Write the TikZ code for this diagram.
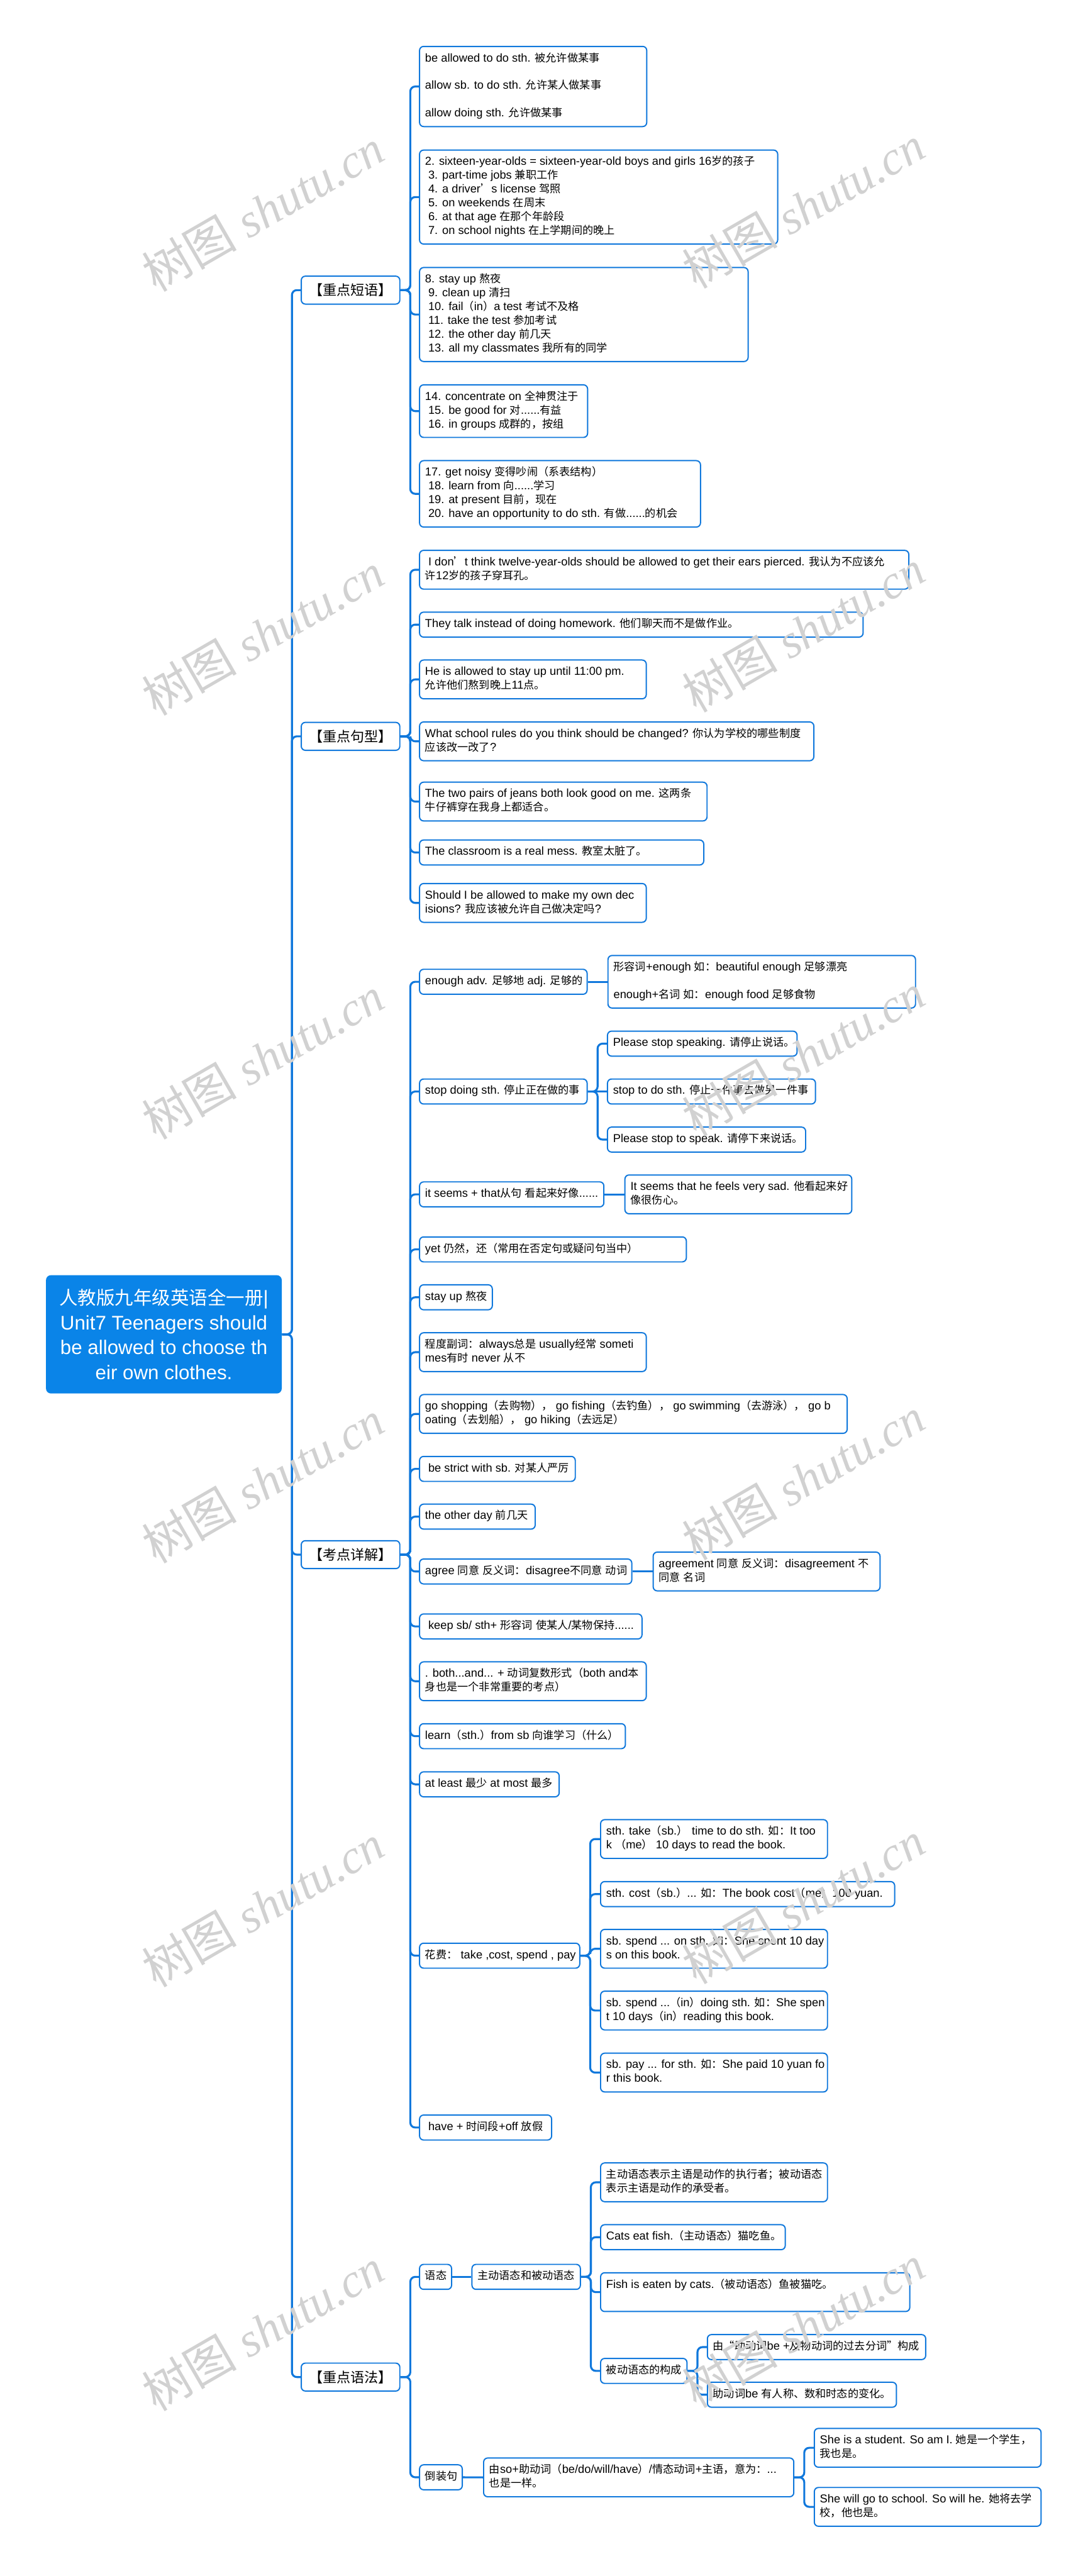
\documentclass[tikz,border=0pt]{standalone}
\usepackage{fontspec}
\setmainfont{Liberation Sans}
\newfontfamily\latf{Liberation Sans}
\newfontfamily\cjkf{Noto Sans CJK SC}[Scale=0.94]
\newfontfamily\wmlat{Liberation Serif}
\newfontfamily\wmcjk{Noto Sans CJK SC}
\usetikzlibrary{calc,positioning}
\definecolor{lineblue}{RGB}{16,120,220}
\definecolor{rootblue}{RGB}{10,132,232}
% Chinese characters switch to the CJK font by themselves
\chardef\cjkcls=7
\newcount\cjkc
\cjkc="2E80 \loop\XeTeXcharclass\cjkc=\cjkcls \advance\cjkc 1 \ifnum\cjkc<"A000 \repeat
\cjkc="FF00 \loop\XeTeXcharclass\cjkc=\cjkcls \advance\cjkc 1 \ifnum\cjkc<"FFF0 \repeat
\XeTeXcharclass"2018=\cjkcls \XeTeXcharclass"2019=\cjkcls
\XeTeXcharclass"201C=\cjkcls \XeTeXcharclass"201D=\cjkcls
\XeTeXinterchartokenstate=1
\XeTeXinterchartoks 0 \cjkcls = {\cjkf}
\XeTeXinterchartoks 4095 \cjkcls = {\cjkf}
\XeTeXinterchartoks \cjkcls 0 = {\latf}
\XeTeXinterchartoks \cjkcls 4095 = {\latf}
\newcommand{\lf}[2]{\makebox[#1pt][l]{\begin{tabular}{@{}l@{}}#2\end{tabular}}}
\newcommand{\wmf}{\XeTeXinterchartokenstate=0 \fontsize{29}{30}\selectfont\wmlat\itshape}
\tikzset{
  rootbox/.style={fill=rootblue,rounded corners=3pt,text=white,align=center,inner sep=0pt,minimum width=143.5pt,minimum height=72pt,font=\fontsize{12}{15.1}\selectfont},
  leaf/.style={draw=lineblue,line width=0.75pt,fill=white,rounded corners=2.5pt,anchor=west,inner sep=3.4pt,font=\fontsize{7}{8.4}\selectfont},
  cat/.style={leaf,font=\fontsize{9}{10.8}\selectfont,minimum width=60pt,minimum height=17pt},
  branch/.style={lineblue,line width=1.2pt,rounded corners=3pt},
  wmark/.style={anchor=base west,rotate=30,text=black!18,font=\wmf},
}
\begin{document}
\begin{tikzpicture}[x=1pt,y=-1pt]
  \fill[white] (0,0) rectangle (662,1568);
  % root and the four topics
  \node[rootbox] (root) at (99.75,812.2) {人教版九年级英语全一册|\\Unit7 Teenagers should\\be allowed to choose th\\eir own clothes.};
  \node[cat] (pd) at (183,176.6) {【重点短语】};
  \node[cat] (jx) at (183,448.2) {【重点句型】};
  \node[cat] (kd) at (183,946.3) {【考点详解】};
  \node[cat] (yf) at (183,1446.9) {【重点语法】};
  % phrases
  \node[leaf] (p1) at (255,52.65) {\lf{131.5}{be allowed to do sth. 被允许做某事\\[8.4pt]allow sb. to do sth. 允许某人做某事\\[8.4pt]allow doing sth. 允许做某事}};
  \node[leaf] (p2) at (255,119.95) {\lf{211.2}{2. sixteen-year-olds = sixteen-year-old boys and girls 16岁的孩子\\\ 3. part-time jobs 兼职工作\\\ 4. a driver’s license 驾照\\\ 5. on weekends 在周末\\\ 6. at that age 在那个年龄段\\\ 7. on school nights 在上学期间的晚上}};
  \node[leaf] (p3) at (255,191.45) {\lf{193.2}{8. stay up 熬夜\\\ 9. clean up 清扫\\\ 10. fail（in）a test 考试不及格\\\ 11. take the test 参加考试\\\ 12. the other day 前几天\\\ 13. all my classmates 我所有的同学}};
  \node[leaf] (p4) at (255,250.25) {\lf{95.5}{14. concentrate on 全神贯注于\\\ 15. be good for 对......有益\\\ 16. in groups 成群的，按组}};
  \node[leaf] (p5) at (255,300.6) {\lf{164.2}{17. get noisy 变得吵闹（系表结构）\\\ 18. learn from 向......学习\\\ 19. at present 目前，现在\\\ 20. have an opportunity to do sth. 有做......的机会}};
  % sentences
  \node[leaf] (s1) at (255,346.8) {\lf{291}{\ I don’t think twelve-year-olds should be allowed to get their ears pierced. 我认为不应该允\\许12岁的孩子穿耳孔。}};
  \node[leaf] (s2) at (255,380.2) {\lf{263.2}{They talk instead of doing homework. 他们聊天而不是做作业。}};
  \node[leaf] (s3) at (255,413.55) {\lf{131.2}{He is allowed to stay up until 11:00 pm.\\允许他们熬到晚上11点。}};
  \node[leaf] (s4) at (255,451.25) {\lf{233.2}{What school rules do you think should be changed? 你认为学校的哪些制度\\应该改一改了?}};
  \node[leaf] (s5) at (255,487.9) {\lf{168.2}{The two pairs of jeans both look good on me. 这两条\\牛仔裤穿在我身上都适合。}};
  \node[leaf] (s6) at (255,518.9) {\lf{166.2}{The classroom is a real mess. 教室太脏了。}};
  \node[leaf] (s7) at (255,549.6) {\lf{131.2}{Should I be allowed to make my own dec\\isions? 我应该被允许自己做决定吗?}};
  % key points
  \node[leaf] (k1) at (255,597.6) {\lf{95.2}{enough adv. 足够地 adj. 足够的}};
  \node[leaf] (k1a) at (369.7,597.6) {\lf{180.4}{形容词+enough 如：beautiful enough 足够漂亮\\[8.4pt]enough+名词 如：enough food 足够食物}};
  \node[leaf] (k2) at (255,664.4) {\lf{95.2}{stop doing sth. 停止正在做的事}};
  \node[leaf] (k2a) at (369.4,635.25) {\lf{108.6}{Please stop speaking. 请停止说话。}};
  \node[leaf] (k2b) at (369.4,664.4) {\lf{119.8}{stop to do sth. 停止一件事去做另一件事}};
  \node[leaf] (k2c) at (369.4,693.65) {\lf{113.8}{Please stop to speak. 请停下来说话。}};
  \node[leaf] (k3) at (255,727) {\lf{105.4}{it seems + that从句 看起来好像......}};
  \node[leaf] (k3a) at (380,727) {\lf{131.3}{It seems that he feels very sad. 他看起来好\\像很伤心。}};
  \node[leaf] (k4) at (255,760.5) {\lf{155.6}{yet 仍然，还（常用在否定句或疑问句当中）}};
  \node[leaf] (k5) at (255,789.65) {\lf{37.5}{stay up 熬夜}};
  \node[leaf] (k6) at (255,823.05) {\lf{131.2}{程度副词：always总是 usually经常 someti\\mes有时 never 从不}};
  \node[leaf] (k7) at (255,860.65) {\lf{253.5}{go shopping（去购物）， go fishing（去钓鱼）， go swimming（去游泳）， go b\\oating（去划船）， go hiking（去远足）}};
  \node[leaf] (k8) at (255,894.1) {\lf{88}{\ be strict with sb. 对某人严厉}};
  \node[leaf] (k9) at (255,923.15) {\lf{63.6}{the other day 前几天}};
  \node[leaf] (k10) at (255,956.55) {\lf{122.4}{agree 同意 反义词：disagree不同意 动词}};
  \node[leaf] (k10a) at (397.2,956.55) {\lf{131.3}{agreement 同意 反义词：disagreement 不\\同意 名词}};
  \node[leaf] (k11) at (255,990) {\lf{128.6}{\ keep sb/ sth+ 形容词 使某人/某物保持......}};
  \node[leaf] (k12) at (255,1023.35) {\lf{131.2}{. both...and... + 动词复数形式（both and本\\身也是一个非常重要的考点）}};
  \node[leaf] (k13) at (255,1056.8) {\lf{118.5}{learn（sth.）from sb 向谁学习（什么）}};
  \node[leaf] (k14) at (255,1086.1) {\lf{78.2}{at least 最少 at most 最多}};
  \node[leaf] (k15) at (255,1190.4) {\lf{90.7}{花费： take ,cost, spend , pay}};
  \node[leaf] (k15a) at (365.2,1119.4) {\lf{131.3}{sth. take（sb.） time to do sth. 如：It too\\k （me） 10 days to read the book.}};
  \node[leaf] (k15b) at (365.2,1152.9) {\lf{172.2}{sth. cost（sb.）... 如：The book cost（me）100 yuan.}};
  \node[leaf] (k15c) at (365.2,1186.2) {\lf{131.3}{sb. spend ... on sth. 如：She spent 10 day\\s on this book.}};
  \node[leaf] (k15d) at (365.2,1223.8) {\lf{131.3}{sb. spend ...（in）doing sth. 如：She spen\\t 10 days（in）reading this book.}};
  \node[leaf] (k15e) at (365.2,1261.55) {\lf{131.3}{sb. pay ... for sth. 如：She paid 10 yuan fo\\r this book.}};
  \node[leaf] (k16) at (255,1295) {\lf{73.6}{\ have + 时间段+off 放假}};
  % grammar
  \node[leaf] (g1) at (255,1385.9) {\lf{12.7}{语态}};
  \node[leaf] (g1a) at (286.9,1385.9) {\lf{59.2}{主动语态和被动语态}};
  \node[leaf] (ga1) at (365.2,1328.35) {\lf{131.3}{主动语态表示主语是动作的执行者；被动语态\\表示主语是动作的承受者。}};
  \node[leaf] (ga2) at (365.2,1361.75) {\lf{105.6}{Cats eat fish.（主动语态）猫吃鱼。}};
  \node[leaf] (ga3) at (365.2,1395.2) {\lf{181.4}{Fish is eaten by cats.（被动语态）鱼被猫吃。\\[8.4pt]}};
  \node[leaf] (ga4) at (365.2,1443.15) {\lf{45.8}{被动语态的构成}};
  \node[leaf] (gb1) at (430.2,1428.65) {\lf{126.1}{由“助动词be +及物动词的过去分词”构成}};
  \node[leaf] (gb2) at (430.2,1457.65) {\lf{108.3}{助动词be 有人称、数和时态的变化。}};
  \node[leaf] (g2) at (255,1507.9) {\lf{19.2}{倒装句}};
  \node[leaf] (g2a) at (294,1507.95) {\lf{182}{由so+助动词（be/do/will/have）/情态动词+主语，意为：...\\也是一样。}};
  \node[leaf] (gc1) at (495.3,1489.95) {\lf{131.2}{She is a student. So am I. 她是一个学生，\\我也是。}};
  \node[leaf] (gc2) at (495.3,1525.9) {\lf{131.2}{She will go to school. So will he. 她将去学\\校，他也是。}};
  % elbow connectors parent -> child
  \foreach \a/\b in {root/pd,root/jx,root/kd,root/yf,
      pd/p1,pd/p2,pd/p3,pd/p4,pd/p5,
      jx/s1,jx/s2,jx/s3,jx/s4,jx/s5,jx/s6,jx/s7,
      kd/k1,kd/k2,kd/k3,kd/k4,kd/k5,kd/k6,kd/k7,kd/k8,kd/k9,kd/k10,kd/k11,kd/k12,kd/k13,kd/k14,kd/k15,kd/k16,
      k2/k2a,k2/k2c,k15/k15a,k15/k15b,k15/k15c,k15/k15d,k15/k15e,
      yf/g1,yf/g2,g1a/ga1,g1a/ga2,g1a/ga3,g1a/ga4,ga4/gb1,ga4/gb2,g2a/gc1,g2a/gc2}
    \draw[branch] (\a.east) -- ++(6,0) |- (\b.west);
  % straight connectors
  \foreach \a/\b in {k1/k1a,k2/k2b,k3/k3a,k10/k10a,g1/g1a,g2/g2a}
    \draw[branch] (\a.east) -- (\b.west);
  % watermark
  \foreach \r in {0,...,5} {
    \node[wmark] at (92,180+258*\r) {{\wmcjk 树图} shutu.cn};
    \node[wmark] at (421,178+258*\r) {{\wmcjk 树图} shutu.cn};
  }
\end{tikzpicture}
\end{document}
